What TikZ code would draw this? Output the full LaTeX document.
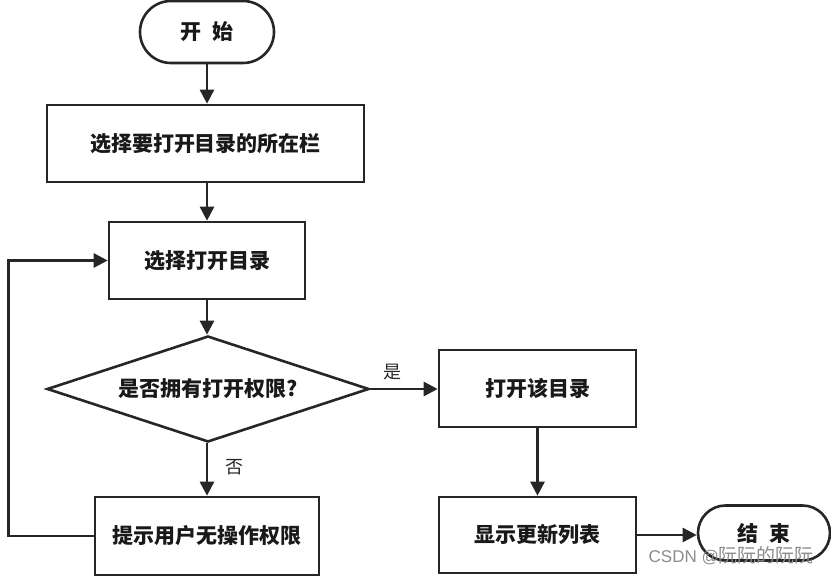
\documentclass[tikz,border=0pt]{standalone}
\usepackage{fontspec}
\setmainfont{Liberation Sans}
\newfontfamily\cjk{Noto Sans CJK SC}
\usetikzlibrary{arrows.meta, shapes.geometric}
\definecolor{ln}{HTML}{262626}
\begin{document}
\begin{tikzpicture}[x=1pt,y=-1pt, line width=2.6pt,
  lbl/.style={font=\cjk\bfseries\fontsize{21}{25}\selectfont, text=black!90},
  box/.style={lbl, draw=ln, rectangle, inner sep=0pt},
  term/.style={box, rounded corners=#1},
  dia/.style={lbl, draw=ln, diamond, aspect=3, inner sep=0pt, minimum width=322pt, minimum height=106pt},
  arr/.style={draw=ln, -{Triangle[length=14pt,width=14pt]}},
  note/.style={font=\cjk\fontsize{18}{22}\selectfont, text=black!85}]
\useasboundingbox (0,0) rectangle (831,577);

\node[term=31pt, minimum width=134pt, minimum height=62pt] (start) at (207,32) {开\hspace{0.5em}始};
\node[box, minimum width=317pt, minimum height=77pt] (b1) at (205.5,143.5) {选择要打开目录的所在栏};
\node[box, minimum width=196pt, minimum height=77pt] (b2) at (207,260.5) {选择打开目录};
\node[dia] (d) at (208,389) {是否拥有打开权限?};
\node[box, minimum width=224pt, minimum height=78pt] (b3) at (207,536) {提示用户无操作权限};
\node[box, minimum width=197pt, minimum height=77pt] (b4) at (537.5,388.5) {打开该目录};
\node[box, minimum width=197pt, minimum height=76pt] (b5) at (537.5,535) {显示更新列表};
\node[term=27.5pt, minimum width=132pt, minimum height=55pt] (end) at (764,533) {结\hspace{0.5em}束};

\draw[arr] (start.south) -- (start.south |- b1.north);
\draw[arr] (start.south |- b1.south) -- (b2.north);
\draw[arr] (b2.south) -- (b2.south |- d.north);
\draw[arr] (b2.south |- d.south) -- (b3.north);
\draw[arr] (d.east) -- (d.east -| b4.west);
\draw[arr] (b4.south) -- (b5.north);
\draw[arr] (b5.east) -- (b5.east -| end.west);
\draw[arr] (b3.west) -- ++(-85,0) |- (b2.west);

\node[note] (yes) at (392,372) {是};
\node[note] (no) at (234,467) {否};

\node[font=\fontsize{17}{20}\selectfont, text=black!45, anchor=west] (wm) at (644,556) {CSDN @{\cjk\fontsize{19}{20}\selectfont 阮阮的阮阮}};
\end{tikzpicture}
\end{document}
